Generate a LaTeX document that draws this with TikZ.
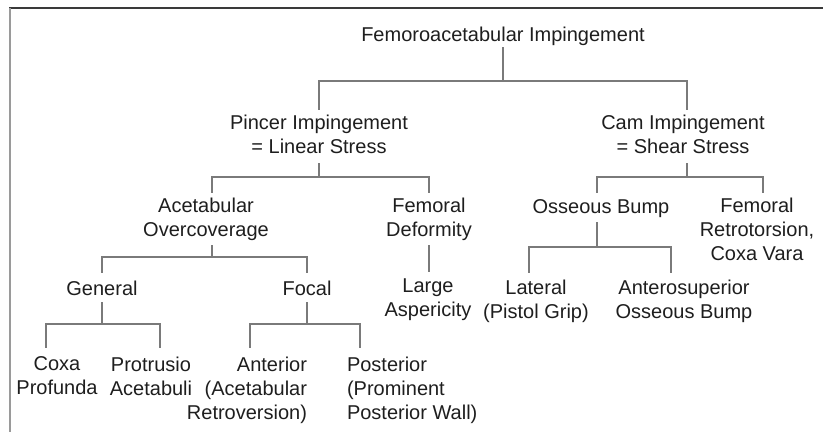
\documentclass[tikz,border=0pt]{standalone}
\usepackage{fontspec}
\setmainfont{Liberation Sans}
\definecolor{txt}{HTML}{1E1E1E}
\definecolor{ln}{HTML}{7A7A7A}
\definecolor{frametop}{HTML}{3A3A3A}
\definecolor{frameleft}{HTML}{9A9A9A}
\begin{document}
\begin{tikzpicture}[x=1pt,y=-1pt,
  lbl/.style={inner sep=0pt, outer sep=0pt, anchor=north, align=center,
    font=\fontsize{20}{24}\selectfont, text=txt,
    execute at begin node={\rule{0pt}{15pt}}},
  conn/.style={draw=ln, line width=1.1pt}]
\useasboundingbox (0,0) rectangle (823,432);
% frame
\draw[frametop, line width=1.6pt] (9,8) -- (823,8);
\draw[frameleft, line width=1.6pt] (10,8) -- (10,432);
% nodes
\node[lbl] (fai) at (503,26) {Femoroacetabular Impingement};
\node[lbl] (pincer) at (319,115) {Pincer Impingement\\= Linear Stress};
\node[lbl] (cam) at (683,115) {Cam Impingement\\= Shear Stress};
\node[lbl] (acet) at (206,198) {Acetabular\\Overcoverage};
\node[lbl] (femdef) at (429,198) {Femoral\\Deformity};
\node[lbl] (osseous) at (601,198) {Osseous Bump};
\node[lbl] (femret) at (757,198) {Femoral\\Retrotorsion,\\Coxa Vara};
\node[lbl] (general) at (102,280) {General};
\node[lbl] (focal) at (307,280) {Focal};
\node[lbl] (large) at (428,279) {Large\\Aspericity};
\node[lbl] (lateral) at (536,280) {Lateral\\(Pistol Grip)};
\node[lbl] (antsup) at (684,280) {Anterosuperior\\Osseous Bump};
\node[lbl] (coxa) at (57,357) {Coxa\\Profunda};
\node[lbl] (protrusio) at (151,357) {Protrusio\\Acetabuli};
\node[lbl, anchor=north east, align=right] (anterior) at (307,357) {Anterior\\(Acetabular\\Retroversion)};
\node[lbl, anchor=north west, align=left] (posterior) at (347,357) {Posterior\\(Prominent\\Posterior Wall)};
% connector end points
\coordinate (fai-out) at (503,47);
\coordinate (pincer-in) at (319,110);
\coordinate (cam-in) at (687,110);
\coordinate (pincer-out) at (319,163);
\coordinate (acet-in) at (212,193);
\coordinate (femdef-in) at (429,193);
\coordinate (cam-out) at (687,163);
\coordinate (osseous-in) at (597,193);
\coordinate (femret-in) at (763,193);
\coordinate (acet-out) at (212,245);
\coordinate (general-in) at (102,273);
\coordinate (focal-in) at (307,273);
\coordinate (femdef-out) at (429,245);
\coordinate (large-in) at (429,272);
\coordinate (osseous-out) at (597,222);
\coordinate (lateral-in) at (529,273);
\coordinate (antsup-in) at (671,273);
\coordinate (general-out) at (102,302);
\coordinate (coxa-in) at (46,348);
\coordinate (protrusio-in) at (160,348);
\coordinate (focal-out) at (307,302);
\coordinate (anterior-in) at (250,348);
\coordinate (posterior-in) at (360,348);
% connectors
\draw[conn] (fai-out) -- ++(0,34) -| (pincer-in);
\draw[conn] (fai-out) -- ++(0,34) -| (cam-in);
\draw[conn] (pincer-out) -- ++(0,14) -| (acet-in);
\draw[conn] (pincer-out) -- ++(0,14) -| (femdef-in);
\draw[conn] (cam-out) -- ++(0,14) -| (osseous-in);
\draw[conn] (cam-out) -- ++(0,14) -| (femret-in);
\draw[conn] (acet-out) -- ++(0,12) -| (general-in);
\draw[conn] (acet-out) -- ++(0,12) -| (focal-in);
\draw[conn] (femdef-out) -- (large-in);
\draw[conn] (osseous-out) -- ++(0,25) -| (lateral-in);
\draw[conn] (osseous-out) -- ++(0,25) -| (antsup-in);
\draw[conn] (general-out) -- ++(0,22) -| (coxa-in);
\draw[conn] (general-out) -- ++(0,22) -| (protrusio-in);
\draw[conn] (focal-out) -- ++(0,22) -| (anterior-in);
\draw[conn] (focal-out) -- ++(0,22) -| (posterior-in);
\end{tikzpicture}
\end{document}
